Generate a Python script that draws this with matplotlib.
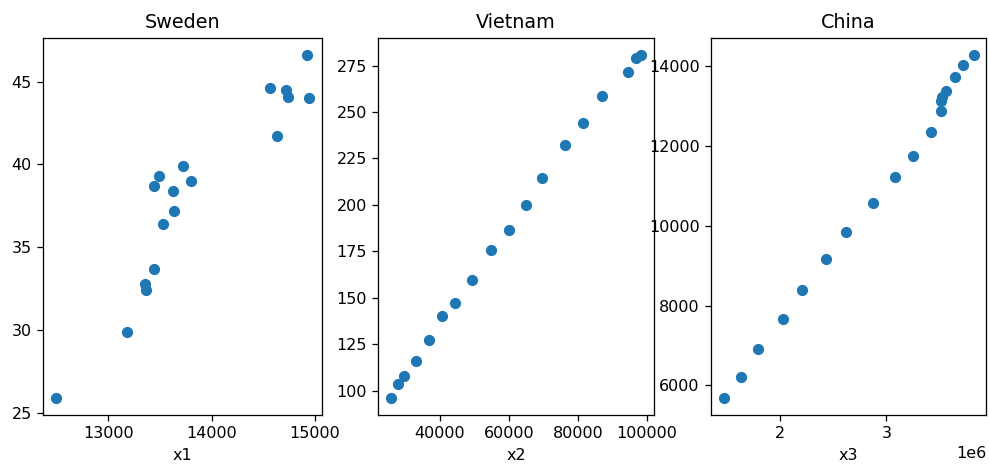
import matplotlib
matplotlib.use("Agg")
import matplotlib.pyplot as plt
import numpy as np

titles = ["Sweden", "Vietnam", "China"]
xlabels = ["x1", "x2", "x3"]

x1 = [12491, 13184, 13355, 13362, 13445, 13526, 13632, 13622, 13442,
      13494, 13726, 13800, 14636, 14565, 14717, 14737, 14921, 14946]
y1 = [25.9, 29.9, 32.8, 32.4, 33.7, 36.4, 37.2, 38.4, 38.7,
      39.3, 39.9, 39.0, 41.7, 44.6, 44.5, 44.1, 46.6, 44.0]

x2 = [25760, 27970, 29770, 33210, 36930, 40570, 44380, 49370, 54900,
      60140, 64840, 69600, 76190, 81460, 86990, 94350, 96930, 98370]
y2 = [96.2, 103.6, 107.9, 116.0, 127.2, 140.0, 147.0, 159.6, 176.0,
      186.7, 199.9, 214.5, 232.4, 244.1, 258.7, 271.3, 279.2, 280.6]

x3 = [1.466e6, 1.632e6, 1.793e6, 2.028e6, 2.209e6, 2.429e6, 2.617e6, 2.876e6, 3.077e6,
      3.250e6, 3.417e6, 3.515e6, 3.515e6, 3.525e6, 3.561e6, 3.648e6, 3.718e6, 3.820e6]
y3 = [5690, 6207, 6908, 7676, 8393, 9176, 9852, 10563, 11228,
      11754, 12339, 12880, 13123, 13230, 13373, 13716, 14024, 14268]

dpi = 115
fig = plt.figure(figsize=(989 / dpi, 469 / dpi), dpi=dpi)

# axes boxes in pixels (left, right), shared top/bottom
W, H = 989, 469
boxes = [(43, 322), (378, 654), (711, 986)]
top, bottom = 38, 415

data = [(x1, y1), (x2, y2), (x3, y3)]
for i, (l, r) in enumerate(boxes):
    ax = fig.add_axes([l / W, 1 - bottom / H, (r - l) / W, (bottom - top) / H])
    xs, ys = data[i]
    ax.scatter(xs, ys)
    ax.set_title(titles[i])
    ax.set_xlabel(xlabels[i])

fig.savefig("out.png", dpi=dpi)
